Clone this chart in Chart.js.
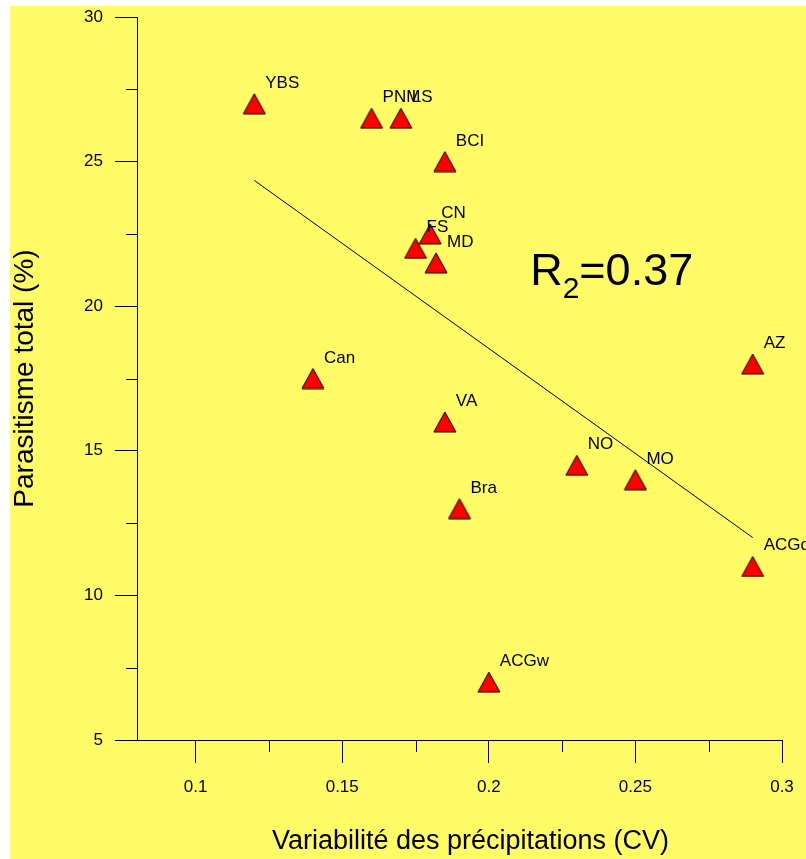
<!DOCTYPE html>
<html>
<head>
<meta charset="utf-8">
<script src="https://cdn.jsdelivr.net/npm/chart.js@4.4.1/dist/chart.umd.min.js"></script>
<style>
  body { margin: 0; background: #fff; }
  canvas { display: block; }
</style>
</head>
<body>
<canvas id="myChart" width="806" height="859"></canvas>
<script>
// sites and their values
const sites = ["YBS", "PNM", "LS", "BCI", "CN", "FS", "MD", "Can", "VA", "Bra", "ACGw", "NO", "MO", "AZ", "ACGd"];
const cv = [0.12, 0.16, 0.17, 0.185, 0.18, 0.175, 0.182, 0.14, 0.185, 0.19, 0.2, 0.23, 0.25, 0.29, 0.29];
const parasitism = [27, 26.5, 26.5, 25, 22.5, 22, 21.5, 17.5, 16, 13, 7, 14.5, 14, 18, 11];

// regression line ends
const fitX = [0.12, 0.29];
const fitY = [24.35, 12.0];

// axes
const xTickValues = [0.1, 0.15, 0.2, 0.25, 0.3];
const xTickLabels = ["0.1", "0.15", "0.2", "0.25", "0.3"];
const xMinor = [0.125, 0.175, 0.225, 0.275];
const yTickValues = [5, 10, 15, 20, 25, 30];
const yTickLabels = ["5", "10", "15", "20", "25", "30"];
const yMinor = [7.5, 12.5, 17.5, 22.5, 27.5];

const xTitle = "Variabilité des précipitations (CV)";

const FONT = "'Liberation Sans', Arial, sans-serif";
const YELLOW = "rgb(255, 251, 102)";

// red triangle marker, centred on its box like the original
const tri = document.createElement("canvas");
tri.width = 24;
tri.height = 22;
const tc = tri.getContext("2d");
tc.beginPath();
tc.moveTo(12, 1);
tc.lineTo(23, 21);
tc.lineTo(1, 21);
tc.closePath();
tc.fillStyle = "#ff0000";
tc.fill();
tc.strokeStyle = "#000";
tc.lineWidth = 1;
tc.stroke();

const bgPlugin = {
  id: "bg",
  beforeDraw(chart) {
    const ctx = chart.ctx;
    ctx.save();
    ctx.fillStyle = YELLOW;
    ctx.fillRect(10, 6, chart.width - 10, chart.height - 6);
    ctx.restore();
  }
};

const extrasPlugin = {
  id: "extras",
  afterDatasetsDraw(chart) {
    const ctx = chart.ctx;
    const xs = chart.scales.x, ys = chart.scales.y;
    ctx.save();

    // minor ticks
    ctx.strokeStyle = "#000";
    ctx.lineWidth = 1;
    ctx.beginPath();
    yMinor.forEach(v => {
      const py = Math.round(ys.getPixelForValue(v)) + 0.5;
      ctx.moveTo(xs.left - 11, py);
      ctx.lineTo(xs.left, py);
    });
    xMinor.forEach(v => {
      const px = Math.round(xs.getPixelForValue(v)) + 0.5;
      ctx.moveTo(px, ys.bottom);
      ctx.lineTo(px, ys.bottom + 12);
    });
    ctx.stroke();

    // site labels
    const meta = chart.getDatasetMeta(1);
    ctx.fillStyle = "#000";
    ctx.font = "17px " + FONT;
    ctx.textAlign = "left";
    ctx.textBaseline = "alphabetic";
    meta.data.forEach((pt, i) => {
      ctx.fillText(sites[i], pt.x + 11, pt.y - 16);
    });

    // R2 annotation
    let rx = xs.getPixelForValue(0.2141);
    const ry = ys.getPixelForValue(20.73);
    ctx.font = "45px " + FONT;
    ctx.fillText("R", rx, ry);
    rx += ctx.measureText("R").width;
    ctx.font = "30px " + FONT;
    ctx.fillText("2", rx, ry + 13);
    rx += ctx.measureText("2").width;
    ctx.font = "45px " + FONT;
    ctx.fillText("=0.37", rx, ry);

    // x axis title (sits a little right of the axis centre in the original)
    ctx.font = "27px " + FONT;
    ctx.textAlign = "center";
    ctx.textBaseline = "middle";
    ctx.fillText(xTitle, (xs.left + xs.right) / 2 + 11, chart.height - 17);

    ctx.restore();
  }
};

new Chart("myChart", {
  type: "scatter",
  data: {
    datasets: [
      {
        data: fitX.map((x, i) => ({ x: x, y: fitY[i] })),
        showLine: true,
        borderColor: "#000",
        borderWidth: 1,
        pointRadius: 0,
        order: 1
      },
      {
        data: cv.map((x, i) => ({ x: x, y: parasitism[i] })),
        pointStyle: tri,
        pointRadius: 11,
        order: 0
      }
    ]
  },
  options: {
    responsive: false,
    animation: false,
    events: [],
    layout: { padding: { top: 17, right: 24, left: 0, bottom: 0 } },
    plugins: {
      legend: { display: false },
      tooltip: { enabled: false }
    },
    scales: {
      x: {
        type: "linear",
        min: 0.08,
        max: 0.3,
        afterBuildTicks: s => { s.ticks = xTickValues.map(v => ({ value: v })); },
        afterFit: s => { s.height = 119; s.paddingLeft = 0; s.paddingRight = 0; },
        grid: { drawOnChartArea: false, drawTicks: true, tickLength: 23, color: "#000", lineWidth: 1 },
        border: { display: true, color: "#000", width: 1 },
        ticks: {
          padding: 14,
          color: "#000",
          font: { family: FONT, size: 17 },
          maxRotation: 0,
          callback: (v, i) => xTickLabels[i]
        },
        title: { display: false }
      },
      y: {
        type: "linear",
        min: 5,
        max: 30,
        afterBuildTicks: s => { s.ticks = yTickValues.map(v => ({ value: v })); },
        afterFit: s => { s.width = 137; s.paddingTop = 0; s.paddingBottom = 0; },
        grid: { drawOnChartArea: false, drawTicks: true, tickLength: 22, color: "#000", lineWidth: 1 },
        border: { display: true, color: "#000", width: 1 },
        ticks: {
          padding: 12,
          color: "#000",
          font: { family: FONT, size: 17 },
          callback: (v, i) => yTickLabels[i]
        },
        title: {
          display: true,
          text: "Parasitisme total (%)",
          color: "#000",
          font: { family: FONT, size: 28 },
          padding: { top: 8, bottom: 0 }
        }
      }
    }
  },
  plugins: [bgPlugin, extrasPlugin]
});
</script>
</body>
</html>
